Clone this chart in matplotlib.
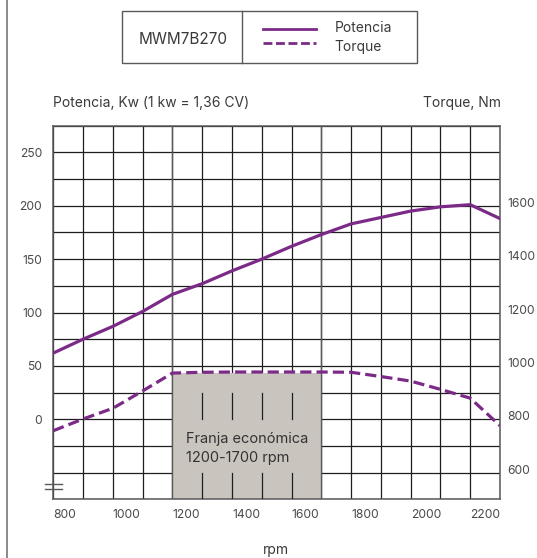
import numpy as np
import matplotlib
matplotlib.use('Agg')
import matplotlib.pyplot as plt
from matplotlib.patches import Rectangle
import matplotlib.transforms as mtransforms

matplotlib.rcParams['font.family'] = ['Inter', 'DejaVu Sans']

purple = '#7b2a87'
grid_c = '#1e1e1e'
edge_c = '#5a5a5a'
text_c = '#3a3a3a'
band_c = '#c9c4be'

# curve values, every 100 rpm
rpm = [800, 900, 1000, 1100, 1200, 1300, 1400, 1500, 1600, 1700, 1800, 1900, 2000, 2100, 2200, 2300]
potencia_kw = [62, 75, 87, 101, 117, 127, 139, 150, 162, 173, 183, 189, 195, 199, 201, 188]
torque_nm = [757, 801, 841, 906, 973, 976, 977, 977, 977, 977, 976, 960, 943, 912, 879, 776]

x_ticks = [800, 1000, 1200, 1400, 1600, 1800, 2000, 2200]
kw_ticks = [0, 50, 100, 150, 200, 250]
nm_ticks = [600, 800, 1000, 1200, 1400, 1600]

band_rpm = [1200, 1700]
band_top_nm = 975
band_lines_rpm = [1300, 1400, 1500, 1600]

W, H = 537, 558
fig = plt.figure(figsize=(W / 100, H / 100), dpi=100)
ax = fig.add_axes([53.3 / W, 1 - 499.3 / H, (500 - 53.3) / W, (499.3 - 125.7) / H])
ax.set_xlim(800, 2300)
ax.set_ylim(-75, 275)
ax2 = ax.twinx()
ax2.set_ylim(500, 1900)

# grid
ax.vlines(np.arange(800, 2301, 100), -75, 275, color=grid_c, lw=0.9, zorder=1)
ax.hlines(np.arange(-75, 276, 25), 800, 2300, color=grid_c, lw=0.9, zorder=1)

# economic band (height in torque units)
ax.add_patch(Rectangle((band_rpm[0], 500), band_rpm[1] - band_rpm[0], band_top_nm - 500,
                       transform=ax2.transData, facecolor=band_c, edgecolor='none', zorder=2))
for x in band_lines_rpm:
    ax.plot([x, x], [0, 25], color=grid_c, lw=0.9, zorder=3)
    ax.plot([x, x], [-75, -50], color=grid_c, lw=0.9, zorder=3)
ax.vlines(band_rpm, -75, 275, color=edge_c, lw=1.0, zorder=3)

# curves
ax.plot(rpm, potencia_kw, color=purple, lw=2.3, zorder=4, solid_joinstyle='round')
ax2.plot(rpm, torque_nm, color=purple, lw=2.3, linestyle=(0, (3.5, 1.6)), zorder=4)

# ticks
ax.set_xticks(x_ticks)
ax.set_xticklabels([str(v) for v in x_ticks], ha='left')
ax.set_yticks(kw_ticks)
ax.set_yticklabels([str(v) for v in kw_ticks])
ax2.set_yticks(nm_ticks)
ax2.set_yticklabels([str(v) for v in nm_ticks])
ax.tick_params(axis='x', length=0, pad=7, labelsize=8.7, labelcolor='#4a4a4a')
ax.tick_params(axis='y', length=0, pad=8, labelsize=8.7, labelcolor='#4a4a4a')
ax2.tick_params(axis='y', length=0, pad=5, labelsize=8.7, labelcolor='#4a4a4a')
up = mtransforms.ScaledTranslation(0, 3.5 / 100, fig.dpi_scale_trans)
for lab in ax2.get_yticklabels():
    lab.set_transform(lab.get_transform() + up)

for s in ax.spines.values():
    s.set_color(edge_c)
    s.set_linewidth(1.1)
for s in ax2.spines.values():
    s.set_visible(False)

# overlay in pixel coordinates for the box and labels
ov = fig.add_axes([0, 0, 1, 1], zorder=5)
ov.set_xlim(0, W)
ov.set_ylim(H, 0)
ov.axis('off')
ov.patch.set_alpha(0)

ov.plot([7.3, 7.3], [0, H], color='#777777', lw=1.2)

ov.add_patch(Rectangle((121.7, 11), 295, 52.3, fill=False, edgecolor=edge_c, lw=1))
ov.plot([242.3, 242.3], [11, 63.3], color=edge_c, lw=1)
ov.text(182.7, 40, 'MWM7B270', ha='center', va='center', fontsize=11, color=text_c)
ov.plot([262.7, 316], [29.3, 29.3], color=purple, lw=2)
ov.plot([262.7, 316], [43.3, 43.3], color=purple, lw=2, linestyle=(0, (3.2, 1.3)))
ov.text(334.3, 28.3, 'Potencia', ha='left', va='center', fontsize=10, color=text_c)
ov.text(334.3, 46.7, 'Torque', ha='left', va='center', fontsize=10, color=text_c)

ov.text(53, 102.7, 'Potencia, Kw (1 kw = 1,36 CV)', ha='left', va='center', fontsize=10, color=text_c)
ov.text(500.7, 102.7, 'Torque, Nm', ha='right', va='center', fontsize=10, color=text_c)
ov.text(276, 550, 'rpm', ha='center', va='center', fontsize=10, color=text_c)

ov.text(186, 439, 'Franja económica', ha='left', va='center', fontsize=10.5, color='#333333')
ov.text(186, 458, '1200-1700 rpm', ha='left', va='center', fontsize=10.5, color='#333333')

# axis break marks
ov.plot([45, 62.3], [484, 484], color=edge_c, lw=1)
ov.plot([45, 62.3], [489, 489], color=edge_c, lw=1)

fig.savefig('out.png', dpi=100)
